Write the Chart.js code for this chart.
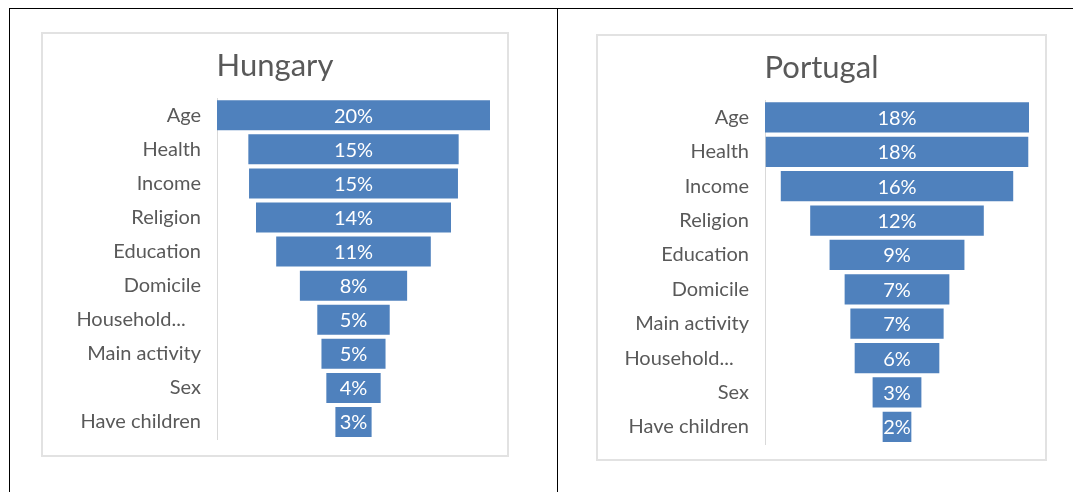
<!DOCTYPE html>
<html>
<head>
<meta charset="utf-8">
<script src="https://cdn.jsdelivr.net/npm/chart.js@4.4.0/dist/chart.umd.min.js"></script>
<style>
  html, body { margin: 0; padding: 0; background: #fff; }
  body { width: 1073px; height: 492px; position: relative; overflow: hidden; font-family: Lato, sans-serif; }
  .rule { position: absolute; background: #000; }
  .box { position: absolute; box-sizing: border-box; border: 2px solid #e2e2e2; background: #fff; }
  .box canvas { display: block; }
</style>
</head>
<body>
  <!-- table lines around the two charts -->
  <div class="rule" style="left:9px; top:8px; width:1064px; height:1px;"></div>
  <div class="rule" style="left:9px; top:8px; width:1px; height:484px;"></div>
  <div class="rule" style="left:557px; top:8px; width:1px; height:484px;"></div>

  <div class="box" style="left:41px; top:32px; width:468px; height:425px;">
    <canvas id="hungaryChart" width="464" height="421"></canvas>
  </div>
  <div class="box" style="left:596px; top:34px; width:451px; height:427px;">
    <canvas id="portugalChart" width="447" height="423"></canvas>
  </div>

<script>
// Share of each factor, in percent
const hungaryCategories = ["Age", "Health", "Income", "Religion", "Education", "Domicile", "Household...   ", "Main activity", "Sex", "Have children"];
const hungaryValues = [19.6, 15.1, 15.0, 14.0, 11.1, 7.7, 5.2, 4.6, 3.9, 2.6];

const portugalCategories = ["Age", "Health", "Income", "Religion", "Education", "Domicile", "Main activity", "Household...   ", "Sex", "Have children"];
const portugalValues = [18.4, 18.3, 16.2, 12.1, 9.4, 7.3, 6.5, 5.9, 3.4, 2.0];

document.addEventListener("DOMContentLoaded", () => {
  const textColor = "#595959";
  const barColor = "#4f81bd";

  // writes the rounded percentage in the middle of each visible bar
  const barLabels = {
    id: "barLabels",
    afterDatasetsDraw(chart) {
      const { ctx } = chart;
      const meta = chart.getDatasetMeta(1);
      const values = chart.data.datasets[1].data;
      ctx.save();
      ctx.fillStyle = "#ffffff";
      ctx.font = "20px Lato";
      ctx.textAlign = "center";
      ctx.textBaseline = "middle";
      meta.data.forEach((bar, i) => {
        ctx.fillText(`${Math.round(values[i])}%`, (bar.x + bar.base) / 2, bar.y + 1);
      });
      ctx.restore();
    },
  };

  // funnel = stacked horizontal bars, first stack is an invisible spacer
  const createFunnel = (canvas, title, labels, values, axisWidth, pad) => {
    const max = Math.max(...values);
    const spacer = values.map((v) => (max - v) / 2);

    return new Chart(canvas.getContext("2d"), {
      type: "bar",
      data: {
        labels: labels,
        datasets: [
          { label: "spacer", data: spacer, backgroundColor: "rgba(0,0,0,0)" },
          { label: title, data: values, backgroundColor: barColor },
        ],
      },
      options: {
        indexAxis: "y",
        responsive: false,
        animation: false,
        layout: { padding: pad },
        datasets: {
          bar: { barPercentage: 0.88, categoryPercentage: 1, borderWidth: 0 },
        },
        plugins: {
          legend: { display: false },
          tooltip: { enabled: false },
          title: {
            display: true,
            text: title,
            color: textColor,
            font: { family: "Lato", size: 31, weight: "normal" },
            padding: { top: 13, bottom: 14 },
          },
        },
        scales: {
          x: { display: false, stacked: true, min: 0, max: max },
          y: {
            stacked: true,
            grid: { display: true, color: "rgba(0,0,0,0)", drawTicks: false },
            border: { display: true, color: "#d9d9d9", width: 1 },
            ticks: { color: textColor, font: { family: "Lato", size: 20 }, padding: 16 },
            afterFit: (scale) => {
              // fixed label column, and no extra room reserved above/below the bands
              scale.width = axisWidth;
              scale.paddingTop = 0;
              scale.paddingBottom = 0;
            },
          },
        },
      },
      plugins: [barLabels],
    });
  };

  // left padding mirrors the right one so the title stays centred on the box
  createFunnel(document.getElementById("hungaryChart"), "Hungary", hungaryCategories, hungaryValues, 157,
    { top: 0, right: 17, bottom: 16, left: 17 });
  createFunnel(document.getElementById("portugalChart"), "Portugal", portugalCategories, portugalValues, 151,
    { top: 0, right: 16, bottom: 15, left: 16 });
});
</script>
</body>
</html>
